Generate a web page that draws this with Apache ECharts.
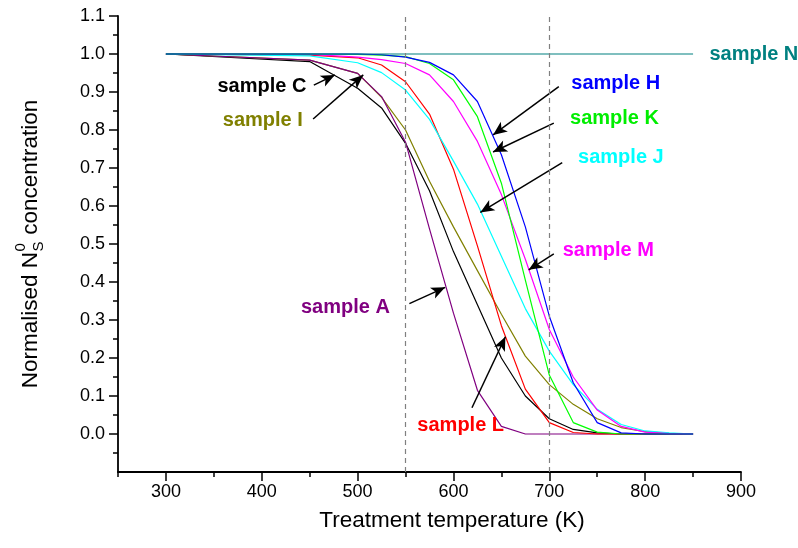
<!DOCTYPE html>
<html>
<head>
<meta charset="utf-8">
<script src="https://cdn.jsdelivr.net/npm/echarts@6/dist/echarts.min.js"></script>
<style>
  html, body { margin: 0; padding: 0; background: #ffffff; }
  #chart { width: 798px; height: 548px; }
</style>
</head>
<body>
<div id="chart"></div>
<script>
// Treatment temperatures (K) of the annealing steps
const temperatures = [300, 450, 500, 525, 550, 575, 600, 625, 650, 675, 700, 725, 750, 775, 800, 825, 850];

// Normalised N_S^0 concentration remaining after each step
const sampleA = [1.0, 0.984, 0.949, 0.888, 0.768, 0.540, 0.318, 0.115, 0.020, 0, 0, 0, 0, 0, 0, 0, 0];
const sampleC = [1.0, 0.980, 0.910, 0.858, 0.765, 0.640, 0.480, 0.340, 0.200, 0.100, 0.040, 0.012, 0.003, 0, 0, 0, 0];
const sampleH = [1.0, 1.0, 1.0, 0.998, 0.992, 0.978, 0.945, 0.875, 0.735, 0.545, 0.310, 0.135, 0.030, 0.003, 0, 0, 0];
const sampleI = [1.0, 0.984, 0.949, 0.886, 0.800, 0.665, 0.545, 0.430, 0.315, 0.205, 0.130, 0.078, 0.040, 0.017, 0.006, 0.002, 0];
const sampleJ = [1.0, 0.995, 0.977, 0.951, 0.905, 0.828, 0.718, 0.605, 0.468, 0.330, 0.218, 0.130, 0.065, 0.025, 0.008, 0.003, 0];
const sampleK = [1.0, 1.0, 0.999, 0.997, 0.993, 0.975, 0.932, 0.835, 0.660, 0.405, 0.155, 0.030, 0.005, 0, 0, 0, 0];
const sampleL = [1.0, 0.997, 0.990, 0.971, 0.927, 0.842, 0.697, 0.495, 0.285, 0.118, 0.030, 0.004, 0, 0, 0, 0, 0];
const sampleM = [1.0, 0.999, 0.992, 0.985, 0.975, 0.945, 0.875, 0.770, 0.630, 0.460, 0.275, 0.150, 0.063, 0.020, 0.005, 0.001, 0];
const sampleN = [1.0, 1.0, 1.0, 1.0, 1.0, 1.0, 1.0, 1.0, 1.0, 1.0, 1.0, 1.0, 1.0, 1.0, 1.0, 1.0, 1.0];

// Axis tick labels
const xTickLabels = [300, 400, 500, 600, 700, 800, 900];
const yTickLabels = [0.0, 0.1, 0.2, 0.3, 0.4, 0.5, 0.6, 0.7, 0.8, 0.9, 1.0, 1.1];

// Reference temperatures marked with dashed lines
const markedTemperatures = [550, 700];

const FONT = '"Liberation Sans", Arial, Helvetica, sans-serif';

const samples = [
  { name: 'sample C', values: sampleC, color: '#000000' },
  { name: 'sample I', values: sampleI, color: '#808000' },
  { name: 'sample A', values: sampleA, color: '#800080' },
  { name: 'sample L', values: sampleL, color: '#ff0000' },
  { name: 'sample J', values: sampleJ, color: '#00ffff' },
  { name: 'sample M', values: sampleM, color: '#ff00ff' },
  { name: 'sample K', values: sampleK, color: '#00ff00' },
  { name: 'sample H', values: sampleH, color: '#0000ff' },
  { name: 'sample N', values: sampleN, color: '#008080' }
];

// Curve labels (left edge / vertical middle, in data units)
const curveLabels = [
  { text: 'sample N', color: '#008080', at: [866.5, 1.0] },
  { text: 'sample H', color: '#0000ff', at: [722.4, 0.923] },
  { text: 'sample K', color: '#00ee00', at: [721.1, 0.831] },
  { text: 'sample J', color: '#00ffff', at: [729.5, 0.727] },
  { text: 'sample M', color: '#ff00ff', at: [713.5, 0.483] },
  { text: 'sample C', color: '#000000', at: [353.2, 0.914] },
  { text: 'sample I', color: '#808000', at: [358.8, 0.824] },
  { text: 'sample A', color: '#800080', at: [440.4, 0.332] },
  { text: 'sample L', color: '#ff0000', at: [561.8, 0.023] }
];

// Pointer arrows from each label to its curve: [tail, head] in data units
const pointerArrows = [
  [[454.3, 0.918], [476.3, 0.945]],
  [[453.6, 0.829], [505.9, 0.945]],
  [[709.9, 0.914], [641.3, 0.787]],
  [[704.7, 0.818], [641.3, 0.742]],
  [[713.5, 0.714], [628.0, 0.583]],
  [[704.7, 0.474], [678.5, 0.432]],
  [[554.0, 0.343], [591.4, 0.386]],
  [[619.3, 0.069], [654.2, 0.256]]
];

const series = samples.map(function (s) {
  return {
    name: s.name,
    type: 'line',
    xAxisIndex: 0,
    yAxisIndex: 0,
    data: temperatures.map(function (t, i) { return [t, s.values[i]]; }),
    symbol: 'none',
    showSymbol: false,
    silent: true,
    lineStyle: { color: s.color, width: 1.2 },
    itemStyle: { color: s.color }
  };
});

const sampleNSeries = series[series.length - 1];
sampleNSeries.markLine = {
  silent: true,
  symbol: 'none',
  label: { show: false },
  lineStyle: { type: [5, 4], color: '#808080', width: 1.2 },
  data: markedTemperatures.map(function (t) { return { xAxis: t }; })
};
sampleNSeries.markPoint = {
  silent: true,
  symbol: 'circle',
  symbolSize: 1,
  itemStyle: { color: 'rgba(0,0,0,0)' },
  label: {
    show: true,
    position: 'right',
    distance: 0,
    formatter: '{b}',
    fontFamily: FONT,
    fontSize: 20,
    fontWeight: 'bold'
  },
  data: curveLabels.map(function (l) {
    return { name: l.text, coord: l.at, label: { color: l.color } };
  })
};

series[0].markLine = {
  silent: true,
  label: { show: false },
  lineStyle: { type: 'solid', color: '#000000', width: 1.5 },
  data: pointerArrows.map(function (a) {
    return [
      { coord: a[0], symbol: 'none' },
      { coord: a[1], symbol: 'arrow', symbolSize: [9, 14] }
    ];
  })
};

// Build the rotated y-axis title with stacked sub/superscript on N
const measureCtx = document.createElement('canvas').getContext('2d');
function textWidth(str, size) {
  measureCtx.font = size + 'px ' + FONT;
  return measureCtx.measureText(str).width;
}
const titleSize = 22.5, scriptSize = 15;
const wHead = textWidth('Normalised N', titleSize);
const wScript = Math.max(textWidth('S', scriptSize), textWidth('0', scriptSize));
const wTail = textWidth(' concentration', titleSize);
const titleWidth = wHead + wScript + 1 + wTail;
const x0 = -titleWidth / 2;
function titleText(str, x, y, size) {
  return {
    type: 'text', x: x, y: y,
    style: { text: str, fontSize: size, fontFamily: FONT, fill: '#000000', align: 'left', verticalAlign: 'middle' }
  };
}

const option = {
  animation: false,
  backgroundColor: '#ffffff',
  grid: { left: 118, right: 57, top: 16, bottom: 76, containLabel: false },
  xAxis: [
    {
      type: 'value', min: 250, max: 900, interval: 50, position: 'bottom',
      axisLine: { show: true, onZero: false, lineStyle: { color: '#000000', width: 1.8 } },
      axisTick: { show: true, length: 5, lineStyle: { color: '#000000', width: 1.5 } },
      axisLabel: { customValues: xTickLabels, fontSize: 18, color: '#000000', fontFamily: FONT, margin: 11 },
      splitLine: { show: false }
    },
    {
      type: 'value', min: 250, max: 900, interval: 50, position: 'bottom', offset: 0,
      axisLine: { show: false, onZero: false },
      axisTick: { show: true, customValues: xTickLabels, length: 9, lineStyle: { color: '#000000', width: 1.5 } },
      axisLabel: { show: false },
      splitLine: { show: false }
    }
  ],
  yAxis: [
    {
      type: 'value', min: -0.1, max: 1.1, interval: 0.1, position: 'left',
      axisLine: { show: true, onZero: false, lineStyle: { color: '#000000', width: 1.8 } },
      axisTick: { show: true, customValues: yTickLabels, length: 9, lineStyle: { color: '#000000', width: 1.5 } },
      minorTick: { show: true, splitNumber: 2, length: 5, lineStyle: { color: '#000000', width: 1.5 } },
      axisLabel: {
        customValues: yTickLabels, fontSize: 18, color: '#000000', fontFamily: FONT, margin: 13,
        formatter: function (v) { return Number(v).toFixed(1); }
      },
      splitLine: { show: false },
      minorSplitLine: { show: false }
    }
  ],
  graphic: [
    {
      type: 'group', x: 31, y: 244, rotation: Math.PI / 2,
      children: [
        titleText('Normalised N', x0, 0, titleSize),
        titleText('S', x0 + wHead + 0.5, 8, scriptSize),
        titleText('0', x0 + wHead + 0.5, -10, scriptSize),
        titleText(' concentration', x0 + wHead + wScript + 1, 0, titleSize)
      ]
    },
    {
      type: 'text', x: 452, y: 521,
      style: { text: 'Treatment temperature (K)', fontSize: 22.5, fontFamily: FONT, fill: '#000000', align: 'center', verticalAlign: 'middle' }
    }
  ],
  series: series
};

const chart = echarts.init(document.getElementById('chart'), null, { renderer: 'canvas' });
chart.setOption(option);
</script>
</body>
</html>
